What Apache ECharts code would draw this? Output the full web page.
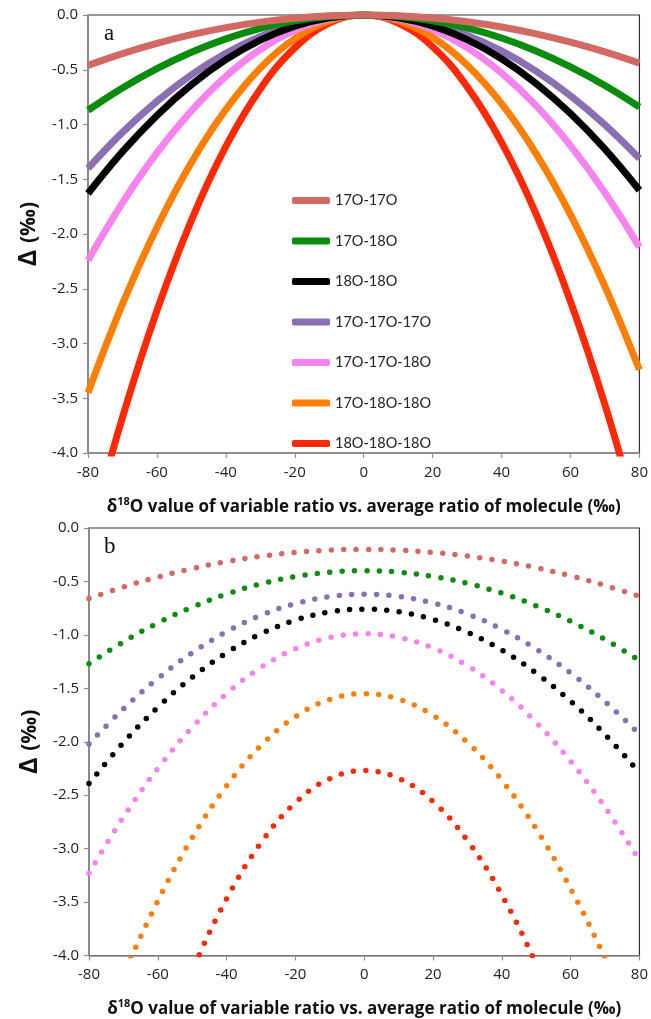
<!DOCTYPE html>
<html>
<head>
<meta charset="utf-8">
<script src="https://cdn.jsdelivr.net/npm/echarts@6/dist/echarts.min.js"></script>
<style>
  html, body { margin: 0; padding: 0; background: #fff; }
  #chart { width: 651px; height: 1019px; }
</style>
</head>
<body>
<div id="chart"></div>
<script>
var chart = echarts.init(document.getElementById('chart'));

// delta18O of variable ratio (per mil)
const deltaX = [-80, -70, -60, -50, -40, -30, -20, -10, 0, 10, 20, 30, 40, 50, 60, 70, 80];
const names = ['17O-17O', '17O-18O', '18O-18O', '17O-17O-17O', '17O-17O-18O', '17O-18O-18O', '18O-18O-18O'];
const colors = ['#d26a63', '#0b8c0f', '#000000', '#8a6fb3', '#f584ef', '#ff7f05', '#ff2a05'];

// panel a: solid lines
const a1717 = [-0.46, -0.352, -0.259, -0.18, -0.115, -0.065, -0.029, -0.007, 0, -0.007, -0.028, -0.062, -0.11, -0.172, -0.248, -0.337, -0.44];
const a1718 = [-0.87, -0.666, -0.489, -0.34, -0.218, -0.122, -0.054, -0.014, 0, -0.013, -0.053, -0.118, -0.21, -0.328, -0.473, -0.643, -0.84];
const a1818 = [-1.63, -1.248, -0.917, -0.637, -0.408, -0.229, -0.102, -0.025, 0, -0.025, -0.10, -0.225, -0.40, -0.625, -0.90, -1.225, -1.60];
const a171717 = [-1.40, -1.072, -0.788, -0.547, -0.35, -0.197, -0.088, -0.022, 0, -0.02, -0.082, -0.184, -0.328, -0.512, -0.737, -1.003, -1.31];
const a171718 = [-2.24, -1.715, -1.26, -0.875, -0.56, -0.315, -0.14, -0.035, 0, -0.033, -0.133, -0.298, -0.53, -0.828, -1.193, -1.623, -2.12];
const a171818 = [-3.45, -2.641, -1.941, -1.348, -0.863, -0.485, -0.216, -0.054, 0, -0.051, -0.203, -0.456, -0.81, -1.266, -1.823, -2.481, -3.24];
const a181818 = [-4.80, -3.675, -2.70, -1.875, -1.20, -0.675, -0.30, -0.075, 0, -0.073, -0.29, -0.654, -1.163, -1.816, -2.616, -3.56, -4.65];

// panel b: dotted lines
const b1717 = [-0.66, -0.552, -0.459, -0.38, -0.315, -0.265, -0.229, -0.207, -0.20, -0.207, -0.228, -0.262, -0.31, -0.372, -0.448, -0.537, -0.64];
const b1718 = [-1.27, -1.066, -0.889, -0.74, -0.618, -0.522, -0.454, -0.414, -0.40, -0.413, -0.453, -0.518, -0.61, -0.728, -0.873, -1.043, -1.24];
const b1818 = [-2.39, -2.008, -1.677, -1.397, -1.168, -0.989, -0.862, -0.785, -0.76, -0.784, -0.856, -0.975, -1.143, -1.358, -1.621, -1.931, -2.29];
const b171717 = [-2.02, -1.692, -1.408, -1.167, -0.97, -0.817, -0.708, -0.642, -0.62, -0.64, -0.702, -0.804, -0.948, -1.132, -1.357, -1.623, -1.93];
const b171718 = [-3.23, -2.705, -2.25, -1.865, -1.55, -1.305, -1.13, -1.025, -0.99, -1.023, -1.123, -1.288, -1.52, -1.818, -2.183, -2.613, -3.11];
const b171818 = [-5.0, -4.191, -3.491, -2.898, -2.413, -2.035, -1.766, -1.604, -1.55, -1.601, -1.753, -2.006, -2.36, -2.816, -3.373, -4.031, -4.79];
const b181818 = [-7.07, -5.945, -4.97, -4.145, -3.47, -2.945, -2.57, -2.345, -2.27, -2.343, -2.56, -2.924, -3.433, -4.086, -4.886, -5.83, -6.92];

const panelA = [a1717, a1718, a1818, a171717, a171718, a171818, a181818];
const panelB = [b1717, b1718, b1818, b171717, b171718, b171818, b181818];

const font = '"Open Sans", "DejaVu Sans", sans-serif';

function pairs(vals) {
    return deltaX.map(function (x, i) { return [x, vals[i]]; });
}

function xAxisFor(idx) {
    return {
        gridIndex: idx,
        type: 'value',
        min: -80,
        max: 80,
        interval: 20,
        name: '{g|δ}{s|18}{g|O value of variable ratio vs. average ratio of molecule (‰)}',
        nameLocation: 'middle',
        nameGap: 43,
        nameTextStyle: {
            rich: {
                g: { fontFamily: font, fontWeight: 'bold', fontSize: 17, color: '#111', lineHeight: 22 },
                s: { fontFamily: font, fontWeight: 'bold', fontSize: 11, color: '#111', lineHeight: 22, verticalAlign: 'top', padding: [0, 0, 8, 0] }
            }
        },
        axisLine: { show: true, onZero: false, lineStyle: { color: '#8c8c8c', width: 1.5 } },
        axisTick: { show: true, inside: false, length: 5, lineStyle: { color: '#8c8c8c', width: 1.2 } },
        axisLabel: { fontFamily: font, fontSize: 15, color: '#222', margin: 12 },
        splitLine: { show: false }
    };
}

function yAxisFor(idx) {
    return {
        gridIndex: idx,
        type: 'value',
        min: -4,
        max: 0,
        interval: 0.5,
        name: '{d|Δ}  {p|(‰)}',
        nameLocation: 'middle',
        nameRotate: 90,
        nameGap: 46,
        nameTextStyle: {
            rich: {
                d: { fontFamily: font, fontWeight: 'bold', fontSize: 25, color: '#111' },
                p: { fontFamily: font, fontWeight: 'bold', fontSize: 21, color: '#111' }
            }
        },
        axisLine: { show: true, onZero: false, lineStyle: { color: '#8c8c8c', width: 1.5 } },
        axisTick: { show: true, inside: false, length: 5, lineStyle: { color: '#8c8c8c', width: 1.2 } },
        axisLabel: {
            fontFamily: font, fontSize: 15, color: '#222', margin: 10,
            formatter: function (v) { return v.toFixed(1); }
        },
        splitLine: { show: false }
    };
}

var series = [];
names.forEach(function (n, i) {
    series.push({
        name: n,
        type: 'line',
        xAxisIndex: 0,
        yAxisIndex: 0,
        data: pairs(panelA[i]),
        smooth: 0.4,
        symbol: 'none',
        clip: true,
        itemStyle: { color: colors[i] },
        lineStyle: { color: colors[i], width: 7 },
        z: 10 - i
    });
});
names.forEach(function (n, i) {
    series.push({
        name: n + ' (b)',
        type: 'line',
        xAxisIndex: 1,
        yAxisIndex: 1,
        data: pairs(panelB[i]),
        smooth: 0.4,
        symbol: 'none',
        clip: true,
        itemStyle: { color: colors[i] },
        lineStyle: { color: colors[i], width: 5.5, type: [0, 12.4], cap: 'round' },
        z: 10 - i
    });
});

option = {
    backgroundColor: '#fff',
    animation: false,
    grid: [
        { left: 88, top: 15, width: 552, height: 438, show: true, borderColor: '#333', borderWidth: 1.2, backgroundColor: 'transparent' },
        { left: 89, top: 528, width: 553, height: 431, show: true, borderColor: '#333', borderWidth: 1.2, backgroundColor: 'transparent' }
    ],
    legend: {
        data: names,
        orient: 'vertical',
        left: 287,
        top: 188,
        icon: 'roundRect',
        itemWidth: 38,
        itemHeight: 7,
        itemGap: 25.5,
        selectedMode: false,
        itemStyle: { borderWidth: 0 },
        textStyle: { fontFamily: 'Lato, "Open Sans", sans-serif', fontSize: 14.5, color: '#222', lineHeight: 14 }
    },
    graphic: [
        { type: 'text', left: 104, top: 22, style: { text: 'a', font: '23px "Liberation Serif", "DejaVu Serif", serif', fill: '#111' } },
        { type: 'text', left: 104, top: 535, style: { text: 'b', font: '23px "Liberation Serif", "DejaVu Serif", serif', fill: '#111' } }
    ],
    xAxis: [xAxisFor(0), xAxisFor(1)],
    yAxis: [yAxisFor(0), yAxisFor(1)],
    series: series
};

chart.setOption(option);

window.onresize = function () {
    chart.resize();
};
</script>
</body>
</html>
